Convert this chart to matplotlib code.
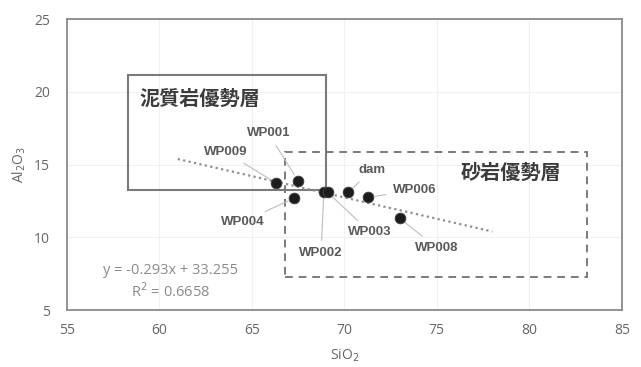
import matplotlib
matplotlib.use("Agg")
import matplotlib.pyplot as plt
from matplotlib.patches import Rectangle

plt.rcParams['font.family'] = ['Open Sans', 'Noto Sans CJK JP', 'DejaVu Sans']

# ---- data ----
samples = ["WP009", "WP001", "WP004", "WP002", "WP003", "dam", "WP006", "WP008"]
sio2 = [66.3, 67.5, 67.3, 68.9, 69.1, 70.2, 71.3, 73.0]
al2o3 = [13.75, 13.9, 12.7, 13.15, 13.1, 13.1, 12.75, 11.3]
label_x = [63.6, 65.9, 64.5, 68.75, 71.4, 71.5, 73.8, 75.0]
label_y = [15.85, 17.15, 11.05, 8.9, 10.35, 14.6, 13.25, 9.3]

slope, intercept, r2 = -0.293, 33.255, 0.6658
trend_x = [61.0, 78.0]

mud_box = [58.3, 13.25, 69.0, 21.15]   # x0, y0, x1, y1
sand_box = [66.8, 7.3, 83.1, 15.9]

x_ticks = [55, 60, 65, 70, 75, 80, 85]
y_ticks = [5, 10, 15, 20, 25]

fig = plt.figure(figsize=(6.41, 3.67), dpi=100)
ax = fig.add_axes([0.104, 0.155, 0.866, 0.793])
ax.set_xlim(55, 85)
ax.set_ylim(5, 25)
ax.set_xticks(x_ticks)
ax.set_yticks(y_ticks)
ax.tick_params(length=0, labelsize=10, colors='#666666')
ax.tick_params(axis='x', pad=9)
ax.tick_params(axis='y', pad=12)
ax.grid(True, color='#f0f0f0', linewidth=0.8)
ax.set_axisbelow(True)
for s in ax.spines.values():
    s.set_color('#8a8a8a')
    s.set_linewidth(1.3)

ax.set_xlabel("SiO$_2$", fontsize=10, color='#666666', labelpad=7)
ax.set_ylabel("Al$_2$O$_3$", fontsize=10, color='#666666', labelpad=4)

# boxes
ax.add_patch(Rectangle((mud_box[0], mud_box[1]), mud_box[2] - mud_box[0], mud_box[3] - mud_box[1],
                       fill=False, edgecolor='#7a7a7a', linewidth=1.5, zorder=2))
ax.add_patch(Rectangle((sand_box[0], sand_box[1]), sand_box[2] - sand_box[0], sand_box[3] - sand_box[1],
                       fill=False, edgecolor='#7a7a7a', linewidth=1.4, linestyle=(0, (4, 3)), zorder=2))
ax.text(62.2, 19.55, "泥質岩優勢層", fontsize=14.5, fontweight='bold',
        color='#3c3c3c', ha='center', va='center', family=['Noto Sans CJK JP'])
ax.text(79.0, 14.45, "砂岩優勢層", fontsize=14.5, fontweight='bold',
        color='#3c3c3c', ha='center', va='center', family=['Noto Sans CJK JP'])

# trendline
ty = [slope * x + intercept for x in trend_x]
ax.plot(trend_x, ty, linestyle=(0, (1, 1.5)), color='#8a8f96', linewidth=1.6, zorder=3)

# points
ax.scatter(sio2, al2o3, s=60, color='#1c1c1c', edgecolors='#444444', linewidths=0.6, zorder=5)

# labels with leader lines
for name, x, y, lx, ly in zip(samples, sio2, al2o3, label_x, label_y):
    ax.annotate(name, xy=(x, y), xytext=(lx, ly), fontsize=9.5, fontweight='bold', color='#5a5a5a',
                ha='center', va='center', family=['Liberation Sans'],
                arrowprops=dict(arrowstyle='-', color='#bdbdbd', linewidth=0.8,
                                shrinkA=3, shrinkB=5))

ax.text(60.6, 7.7, f"y = {slope}x + {intercept}", fontsize=10.5, color='#8a8a8a', ha='center', va='center')
ax.text(60.6, 6.26, f"R$^2$ = {r2}", fontsize=10.5, color='#8a8a8a', ha='center', va='center')

fig.savefig("out.png", dpi=100)
